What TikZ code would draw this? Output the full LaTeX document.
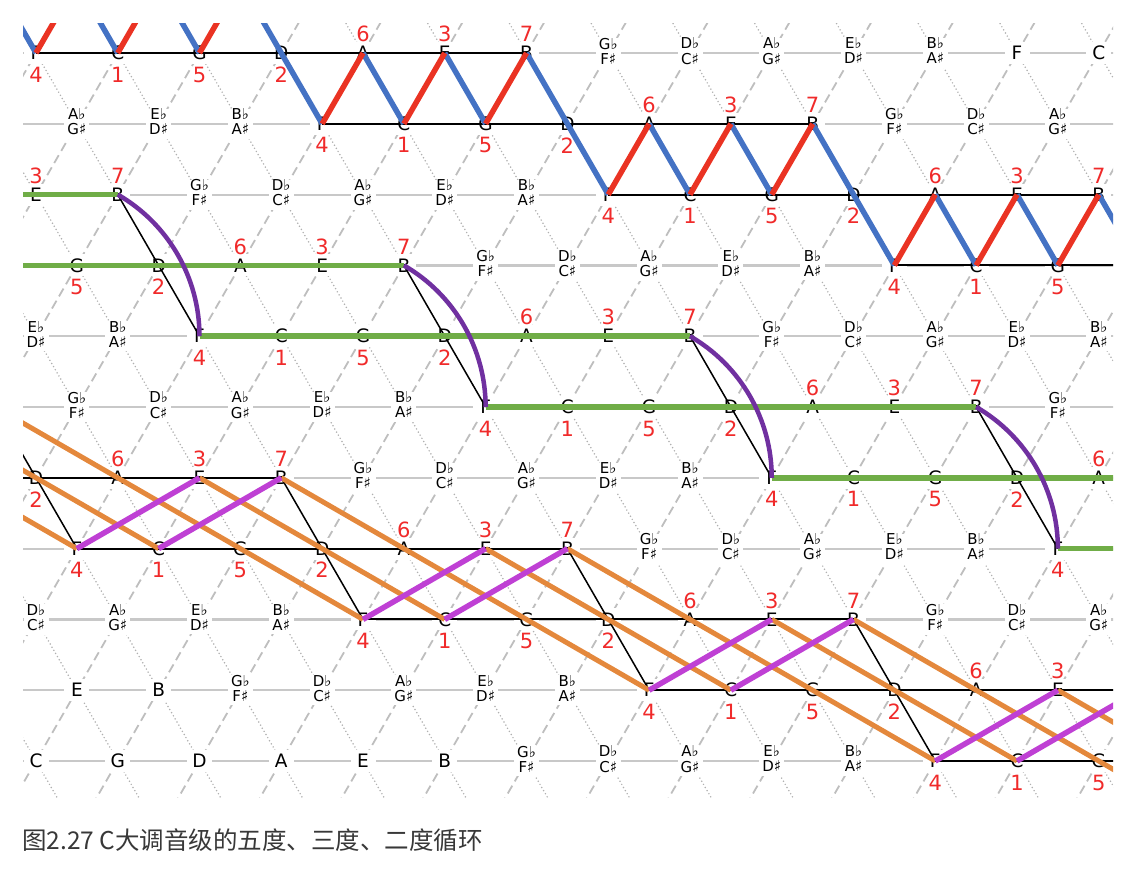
\documentclass[tikz,border=0pt]{standalone}
\usepackage{fontspec}
\setmainfont{DejaVu Sans}
\newfontfamily\cjkfont{Noto Sans CJK SC}
\usetikzlibrary{calc}
\definecolor{gridgray}{HTML}{C8C8C8}
\definecolor{dashgray}{HTML}{BEBEBE}
\definecolor{dotgray}{HTML}{B0B0B0}
\definecolor{cred}{HTML}{EA3323}
\definecolor{cblue}{HTML}{4472C4}
\definecolor{cgreen}{HTML}{70AD47}
\definecolor{cpurple}{HTML}{7030A0}
\definecolor{cmag}{HTML}{BF40D4}
\definecolor{corange}{HTML}{E4883C}
\definecolor{numred}{HTML}{F02A2A}
\definecolor{captiongray}{HTML}{383838}

\newcommand\Wn[1]{{\fontsize{18.5}{18.5}\selectfont #1}}
\newcommand\Kn[2]{{\fontsize{15}{13.5}\selectfont\begin{tabular}{@{}c@{}}#1♭\\#2♯\end{tabular}}}
\newcommand\notename[1]{\ifcase#1 \def\nn{\Wn{C}}\or\def\nn{\Kn{D}{C}}\or\def\nn{\Wn{D}}\or\def\nn{\Kn{E}{D}}\or\def\nn{\Wn{E}}\or\def\nn{\Wn{F}}\or\def\nn{\Kn{G}{F}}\or\def\nn{\Wn{G}}\or\def\nn{\Kn{A}{G}}\or\def\nn{\Wn{A}}\or\def\nn{\Kn{B}{A}}\or\def\nn{\Wn{B}}\fi\nn}
\newcommand\setdeg[1]{\ifcase#1 \def\dg{1}\def\dy{21.5}\or\or\def\dg{2}\def\dy{21.5}\or\or\def\dg{3}\def\dy{-19}\or\def\dg{4}\def\dy{21.5}\or\or\def\dg{5}\def\dy{21.5}\or\or\def\dg{6}\def\dy{-19}\or\or\def\dg{7}\def\dy{-19}\fi}

\tikzset{
  hline/.style={gridgray, line width=2.2},
  dashl/.style={dashgray, line width=1.8, dash pattern=on 9pt off 5pt},
  dotl/.style={dotgray, line width=1.7, line cap=round, dash pattern=on 0pt off 3.6pt},
  lab/.style={fill=white, inner sep=0pt, minimum width=25, minimum height=22, text=black},
  num/.style={inner sep=0pt, text=numred, font=\fontsize{21}{21}\selectfont},
  fifthl/.style={black, line width=2},
  diagl/.style={black, line width=1.5},
  bluel/.style={cblue, line width=5.5},
  redl/.style={cred, line width=5.5},
  greenl/.style={cgreen, line width=5.5},
  purplel/.style={cpurple, line width=4.5},
  magl/.style={cmag, line width=5.5},
  orangel/.style={corange, line width=5},
}

\begin{document}
\begin{tikzpicture}[x=1pt,y=-1pt]
\useasboundingbox (0,0) rectangle (1126,878);
% grid points, named g<j>r<k>
\foreach \k in {-2,...,12}{
  \foreach \t in {-3,...,16}{
    \pgfmathtruncatemacro\j{2*\t+mod(\k+4,2)}
    \coordinate (g\j r\k) at ({36+40.875*\j},{53+70.8*\k});
  }
}
\begin{scope}
\clip (23,23) rectangle (1113,797);
% background lattice
\foreach \k in {0,...,10}{
  \draw[hline] (0,{53+70.8*\k}) -- (1126,{53+70.8*\k});
}
\foreach \s in {-2,0,...,38}{
  \draw[dashl] ({36+40.875*(\s-12)},{53+70.8*12}) -- ({36+40.875*(\s+2)},{53+70.8*(-2)});
}
\foreach \d in {-12,-10,...,28}{
  \draw[dotl] ({36+40.875*(\d-2)},{53+70.8*(-2)}) -- ({36+40.875*(\d+12)},{53+70.8*12});
}
% note labels
\foreach \k in {0,...,10}{
  \foreach \t in {0,...,13}{
    \pgfmathtruncatemacro\j{2*\t+mod(\k,2)}
    \pgfmathtruncatemacro\p{mod(7*(\j-10+\k)/2+4*(10-\k)+168,12)}
    \ifnum\j<27
      \node[lab] (L\j r\k) at (g\j r\k) {\notename{\p}};
    \fi
  }
}
% ---- cycle of fifths rows (black) ----
\draw[fifthl] (g0r0) -- (g12r0);
\draw[fifthl] (g7r1) -- (g19r1);
\draw[fifthl] (g14r2) -- (g26r2);
\draw[fifthl] (g21r3) -- (g31r3);
\draw[fifthl] (g-4r6) -- (g6r6);
\draw[fifthl] (g1r7) -- (g13r7);
\draw[fifthl] (g8r8) -- (g20r8);
\draw[fifthl] (g15r9) -- (g31r9);
\draw[fifthl] (g22r10) -- (g32r10);
% ---- black diagonals B-D-F ----
\draw[diagl] (g2r2) -- (g4r4);
\draw[diagl] (g9r3) -- (g11r5);
\draw[diagl] (g16r4) -- (g18r6);
\draw[diagl] (g23r5) -- (g25r7);
\draw[diagl] (g-1r5) -- (g1r7);
\draw[diagl] (g6r6) -- (g8r8);
\draw[diagl] (g13r7) -- (g15r9);
\draw[diagl] (g20r8) -- (g22r10);
% ---- cycle of thirds (top) ----
\draw[bluel] (g-1r-1) -- (g0r0);
\draw[bluel] (g1r-1) -- (g2r0);
\draw[bluel] (g3r-1) -- (g4r0);
\draw[bluel] (g5r-1) -- (g6r0) -- (g7r1);
\draw[bluel] (g8r0) -- (g9r1);
\draw[bluel] (g10r0) -- (g11r1);
\draw[bluel] (g12r0) -- (g13r1) -- (g14r2);
\draw[bluel] (g15r1) -- (g16r2);
\draw[bluel] (g17r1) -- (g18r2);
\draw[bluel] (g19r1) -- (g20r2) -- (g21r3);
\draw[bluel] (g22r2) -- (g23r3);
\draw[bluel] (g24r2) -- (g25r3);
\draw[bluel] (g26r2) -- (g27r3);
\draw[redl] (g0r0) -- (g1r-1);
\draw[redl] (g2r0) -- (g3r-1);
\draw[redl] (g4r0) -- (g5r-1);
\draw[redl] (g7r1) -- (g8r0);
\draw[redl] (g9r1) -- (g10r0);
\draw[redl] (g11r1) -- (g12r0);
\draw[redl] (g14r2) -- (g15r1);
\draw[redl] (g16r2) -- (g17r1);
\draw[redl] (g18r2) -- (g19r1);
\draw[redl] (g21r3) -- (g22r2);
\draw[redl] (g23r3) -- (g24r2);
\draw[redl] (g25r3) -- (g26r2);
% ---- fifths in green (middle) ----
\draw[greenl] (g-2r2) -- (g2r2);
\draw[greenl] (g-3r3) -- (g9r3);
\draw[greenl] (g4r4) -- (g16r4);
\draw[greenl] (g11r5) -- (g23r5);
\draw[greenl] (g18r6) -- (g30r6);
\draw[greenl] (g25r7) -- (g31r7);
\draw[purplel] (g2r2) .. controls +(50.6,29.2) and +(0,-58.4) .. (g4r4);
\draw[purplel] (g9r3) .. controls +(50.6,29.2) and +(0,-58.4) .. (g11r5);
\draw[purplel] (g16r4) .. controls +(50.6,29.2) and +(0,-58.4) .. (g18r6);
\draw[purplel] (g23r5) .. controls +(50.6,29.2) and +(0,-58.4) .. (g25r7);
% ---- cycle of seconds (bottom) ----
\draw[orangel] (g-3r5) -- (g3r7);
\draw[orangel] (g-2r6) -- (g1r7);
\draw[orangel] (g-1r5) -- (g8r8);
\draw[orangel] (g4r6) -- (g10r8);
\draw[orangel] (g6r6) -- (g15r9);
\draw[orangel] (g11r7) -- (g17r9);
\draw[orangel] (g13r7) -- (g22r10);
\draw[orangel] (g18r8) -- (g24r10);
\draw[orangel] (g20r8) -- (g29r11);
\draw[orangel] (g25r9) -- (g28r10);
\draw[magl] (g1r7) -- (g4r6);
\draw[magl] (g3r7) -- (g6r6);
\draw[magl] (g8r8) -- (g11r7);
\draw[magl] (g10r8) -- (g13r7);
\draw[magl] (g15r9) -- (g18r8);
\draw[magl] (g17r9) -- (g20r8);
\draw[magl] (g22r10) -- (g25r9);
\draw[magl] (g24r10) -- (g27r9);
\end{scope}
% ---- scale degree numbers ----
\foreach \k/\a/\b in {0/0/12, 1/7/19, 2/14/26, 3/21/25, 2/0/2, 3/1/9, 4/4/16, 5/11/23, 6/18/26, 7/25/25, 6/0/6, 7/1/13, 8/8/20, 9/15/25, 10/22/26}{
  \pgfmathtruncatemacro\N{(\b-\a)/2}
  \foreach \t in {0,...,\N}{
    \pgfmathtruncatemacro\j{\a+2*\t}
    \pgfmathtruncatemacro\p{mod(7*(\j-10+\k)/2+4*(10-\k)+168,12)}
    \setdeg{\p}
    \node[num] (N\j r\k) at ($(g\j r\k)+(0,\dy)$) {\dg};
  }
}
% caption
\node[anchor=base west, inner sep=0pt, text=captiongray, font=\cjkfont\fontsize{24.5}{24.5}\selectfont] (cap) at (22,849) {图2.27 C大调音级的五度、三度、二度循环};
\end{tikzpicture}
\end{document}
